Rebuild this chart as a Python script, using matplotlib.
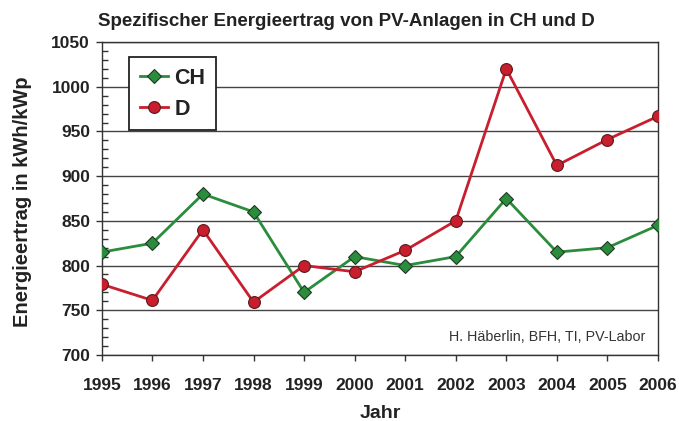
import numpy as np
import matplotlib.pyplot as plt
from matplotlib.ticker import MultipleLocator

plt.rcParams['font.family'] = ['Liberation Sans', 'DejaVu Sans']

years = [1995, 1996, 1997, 1998, 1999, 2000, 2001, 2002, 2003, 2004, 2005, 2006]
ch = [815, 825, 880, 860, 770, 810, 800, 810, 875, 815, 820, 845]
de = [779, 761, 840, 759, 800, 793, 817, 850, 1020, 912, 941, 967]

green = "#2a8c3c"
red = "#c81e2d"
txt = "#222222"

fig = plt.figure(figsize=(6.79, 4.21), dpi=100)
ax = fig.add_axes([0.150, 0.157, 0.819, 0.743])

ax.plot(years, ch, color=green, lw=2.0, marker="D", ms=7,
        mfc=green, mec="#1e3a22", mew=0.8, label="CH", zorder=3)
ax.plot(years, de, color=red, lw=2.0, marker="o", ms=8.5,
        mfc=red, mec="#5a1a1a", mew=0.8, label="D", zorder=3)

ax.set_xlim(1995, 2006)
ax.set_ylim(700, 1050)
ax.set_xticks(years)
ax.yaxis.set_major_locator(MultipleLocator(50))
ax.yaxis.set_minor_locator(MultipleLocator(10))
ax.grid(axis="y", which="major", color="#444444", lw=1.0)
ax.set_axisbelow(True)

for s in ax.spines.values():
    s.set_color("#333333")
    s.set_linewidth(1.0)

ax.tick_params(axis="both", which="major", labelsize=12.5, length=4.5, width=1,
               direction="out", colors="#333333", labelcolor=txt)
ax.tick_params(axis="x", which="major", pad=12)
ax.tick_params(axis="y", which="major", pad=4)
ax.tick_params(axis="y", which="minor", length=4, width=1, direction="in", color="#333333")
for lab in ax.get_xticklabels() + ax.get_yticklabels():
    lab.set_fontweight("bold")

fig.text(346 / 679, 1 - 22 / 421, "Spezifischer Energieertrag von PV-Anlagen in CH und D",
         ha="center", va="center", fontsize=13.5, fontweight="bold", color=txt)
ax.set_ylabel("Energieertrag in kWh/kWp", fontsize=14.5, fontweight="bold", color=txt)
ax.yaxis.set_label_coords(-0.125, 0.49)
ax.set_xlabel("Jahr", fontsize=14, fontweight="bold", color=txt)
ax.xaxis.set_label_coords(0.5, -0.16)

ax.text(0.977, 0.058, "H. Häberlin, BFH, TI, PV-Labor", transform=ax.transAxes,
        ha="right", va="center", fontsize=10.3, color="#333333")

leg = ax.legend(loc="upper left", bbox_to_anchor=(0.049, 0.952), borderaxespad=0,
                fancybox=False, edgecolor=txt, framealpha=1,
                prop={"weight": "bold", "size": 15.5},
                handlelength=1.3, handletextpad=0.3, borderpad=0.5, labelspacing=0.45)
leg.get_frame().set_linewidth(1.3)
for t in leg.get_texts():
    t.set_color(txt)

fig.savefig("out.png", dpi=100)
